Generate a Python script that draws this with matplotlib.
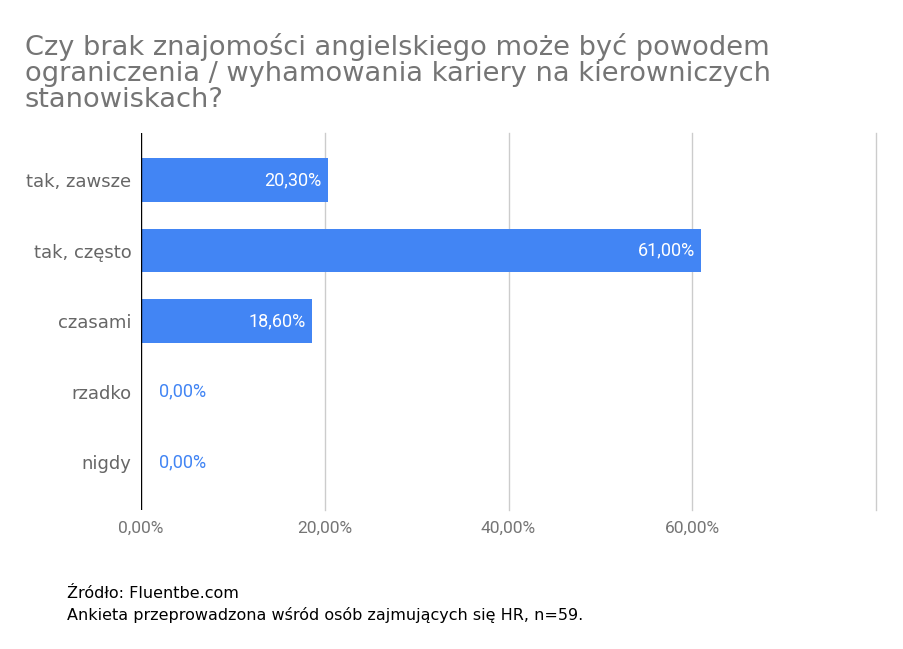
import numpy as np
import matplotlib
matplotlib.use('Agg')
from matplotlib import pyplot as plt

# dane z wykresu
categories = ['tak, zawsze', 'tak, często', 'czasami', 'rzadko', 'nigdy']
values = [20.3, 61.0, 18.6, 0.0, 0.0]
ticks = [0, 20, 40, 60, 80]
tick_labels = ['0,00%', '20,00%', '40,00%', '60,00%', '']

blue = '#4285F4'
grey = '#757575'

fig = plt.figure(figsize=(9.04, 6.49), dpi=100)
ax = fig.add_axes([141/904, 1-510/649, (876-141)/904, (510-133)/649])

y = np.arange(len(categories))
ax.barh(y, values, height=0.62, color=blue, zorder=3)

ax.set_xlim(0, 80)
ax.set_ylim(4.68, -0.667)
ax.set_xticks(ticks)
ax.set_xticklabels(tick_labels, fontfamily='Roboto', fontsize=12.5, color=grey)
ax.set_yticks(y)
ax.set_yticklabels(categories, fontfamily='DejaVu Sans', fontsize=13, color='#666666')
ax.tick_params(axis='y', length=0, pad=7)
ax.tick_params(axis='x', length=0, pad=8)
# siatka recznie, zeby ostatnia linia (80%) nie byla przycieta
for t in ticks[1:]:
    ax.axvline(t, color='#cccccc', linewidth=1, zorder=0, clip_on=False)
for s in ax.spines.values():
    s.set_visible(False)
ax.axvline(0, color='black', linewidth=1, zorder=4)

for yi, v in zip(y, values):
    lab = f'{v:.2f}%'.replace('.', ',')
    if v > 5:
        ax.annotate(lab, (v, yi), xytext=(-4.5, 0), textcoords='offset points',
                    ha='right', va='center', color='white', fontsize=13,
                    fontfamily='Roboto', zorder=5)
    else:
        ax.annotate(lab, (v, yi), xytext=(13, 0), textcoords='offset points',
                    ha='left', va='center', color=blue, fontsize=13,
                    fontfamily='Roboto', zorder=5)

fig.text(25/904, 1-33/649,
         'Czy brak znajomości angielskiego może być powodem\n'
         'ograniczenia / wyhamowania kariery na kierowniczych\n'
         'stanowiskach?',
         fontfamily='DejaVu Sans', fontsize=19.6, color=grey, va='top', ha='left',
         linespacing=1.0)

fig.text(67/904, 1-594/649, 'Źródło: Fluentbe.com', fontfamily='DejaVu Sans',
         fontsize=11.5, color='black', va='center')
fig.text(67/904, 1-615/649,
         'Ankieta przeprowadzona wśród osób zajmujących się HR, n=59.',
         fontfamily='DejaVu Sans', fontsize=11.5, color='black', va='center')

fig.savefig('out.png', dpi=100, facecolor='white')
